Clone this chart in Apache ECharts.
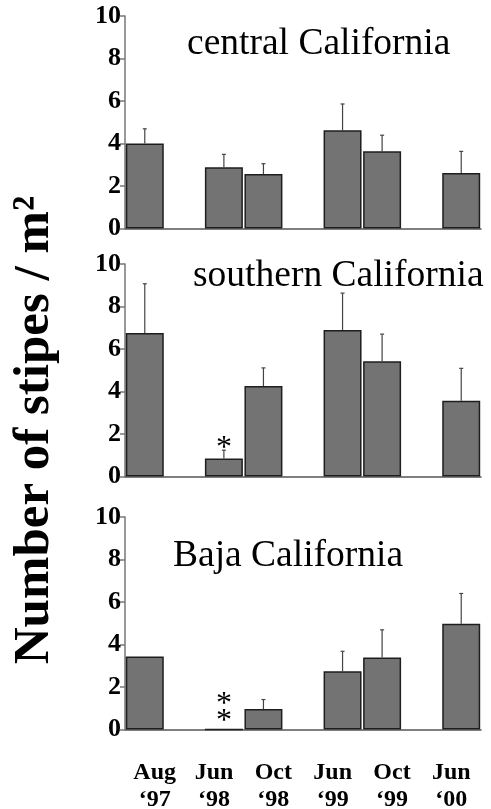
<!DOCTYPE html>
<html>
<head>
<meta charset="utf-8">
<script src="https://cdn.jsdelivr.net/npm/echarts@6/dist/echarts.min.js"></script>
<style>
html,body{margin:0;padding:0;background:#fff;}
#chart{width:491px;height:809px;}
</style>
</head>
<body>
<div id="chart"></div>
<script>
// ---- data ----
const categories = ["Aug ‘97", "Jun ‘98", "Oct ‘98", "Jun ‘99", "Oct ‘99", "Jun ‘00"];
const slotIndex = [0, 2, 3, 5, 6, 8];   // bars sit in 9 slots, with empty slots between seasons
const slotCount = 9;
const yTicks = [0, 2, 4, 6, 8, 10];
const panelTitles = ["central California", "southern California", "Baja California"];
const yAxisTitle = "Number of stipes / m²";

const centralMean  = [4.00, 2.88, 2.56, 4.62, 3.63, 2.61];
const centralUpper = [4.69, 3.49, 3.05, 5.86, 4.39, 3.63];
const centralNotes = ["", "", "", "", "", ""];

const southernMean  = [6.75, 0.85, 4.26, 6.89, 5.42, 3.57];
const southernUpper = [9.07, 1.24, 5.11, 8.63, 6.70, 5.09];
const southernNotes = ["", "*", "", "", "", ""];

const bajaMean  = [3.43, 0, 0.96, 2.74, 3.39, 4.98];
const bajaUpper = [null, null, 1.41, 3.68, 4.69, 6.40];
const bajaNotes = ["", "*\n*", "", "", "", ""];

// ---- layout / style ----
const panels = [
  {mean: centralMean, upper: centralUpper, notes: centralNotes},
  {mean: southernMean, upper: southernUpper, notes: southernNotes},
  {mean: bajaMean, upper: bajaUpper, notes: bajaNotes}
];
const gridTops = [16, 264, 517];
const gridH = 212.5;
const gridLeft = 125, gridW = 356;
const titlePos = [{left: 187, top: 25}, {left: 193, top: 257}, {left: 173, top: 537}];
const noteDistance = [5, 1, -1];
const serif = "'Liberation Serif', 'Times New Roman', serif";

const slotLabels = [];
for (let i = 0; i < slotCount; i++) {
  const k = slotIndex.indexOf(i);
  slotLabels.push(k >= 0 ? categories[k] : "");
}

const grids = [], xAxes = [], yAxes = [], series = [], titles = [];
panels.forEach((p, g) => {
  grids.push({left: gridLeft, top: gridTops[g], width: gridW, height: gridH,
              containLabel: false, outerBoundsMode: 'none'});
  titles.push({
    text: panelTitles[g], left: titlePos[g].left, top: titlePos[g].top, padding: 0,
    textStyle: {fontFamily: serif, fontSize: 37.5, fontWeight: 'normal', color: '#000'}
  });
  xAxes.push({
    type: 'category', gridIndex: g, data: slotLabels,
    axisLine: {show: true, lineStyle: {color: '#555', width: 1.5}},
    axisTick: {show: false}, axisLabel: {show: false}, splitLine: {show: false}
  });
  yAxes.push({
    type: 'value', gridIndex: g, min: yTicks[0], max: yTicks[yTicks.length - 1],
    interval: yTicks[1] - yTicks[0],
    axisLine: {show: true, lineStyle: {color: '#777', width: 1.5}},
    axisTick: {show: true, length: 5, lineStyle: {color: '#777', width: 1.5}},
    splitLine: {show: false},
    axisLabel: {
      color: '#000', fontFamily: serif, fontWeight: 'bold', fontSize: 26, margin: 4,
      padding: [12, 0, 0, 0]
    }
  });
  const barData = new Array(slotCount).fill(null);
  const errData = [];
  p.mean.forEach((v, i) => {
    barData[slotIndex[i]] = {value: v, note: p.notes[i]};
    if (p.upper[i] != null) errData.push([slotIndex[i], v, p.upper[i]]);
  });
  series.push({
    type: 'bar', xAxisIndex: g, yAxisIndex: g, data: barData,
    barCategoryGap: '4%',
    itemStyle: {color: '#737373', borderColor: '#1e1e1e', borderWidth: 1.5},
    label: {
      show: true, position: 'top', distance: noteDistance[g],
      fontFamily: serif, fontSize: 32, lineHeight: 17, color: '#000',
      formatter: (prm) => (prm.data && prm.data.note) ? prm.data.note : ''
    },
    emphasis: {disabled: true}, animation: false, silent: true
  });
  series.push({
    type: 'custom', xAxisIndex: g, yAxisIndex: g, data: errData,
    encode: {x: 0, y: [1, 2]},
    renderItem: (params, api) => {
      const x = api.value(0);
      const p0 = api.coord([x, api.value(1)]);
      const p1 = api.coord([x, api.value(2)]);
      const st = {stroke: '#444', lineWidth: 1.2};
      return {
        type: 'group', children: [
          {type: 'line', shape: {x1: p0[0], y1: p0[1], x2: p1[0], y2: p1[1]}, style: st},
          {type: 'line', shape: {x1: p1[0] - 2, y1: p1[1], x2: p1[0] + 2, y2: p1[1]}, style: st}
        ]
      };
    },
    z: 3, animation: false, silent: true
  });
});

// shared category labels under the bottom panel
xAxes.push({
  type: 'category', gridIndex: 2, position: 'bottom', data: categories,
  axisLine: {show: false}, axisTick: {show: false}, splitLine: {show: false},
  axisLabel: {
    show: true, interval: 0, margin: 30, color: '#000', fontFamily: serif,
    fontWeight: 'bold', fontSize: 24, lineHeight: 27,
    formatter: (v) => v.replace(' ', '\n')
  }
});

const chart = echarts.init(document.getElementById('chart'), null, {renderer: 'canvas'});
chart.setOption({
  backgroundColor: '#fff',
  animation: false,
  title: titles,
  grid: grids,
  xAxis: xAxes,
  yAxis: yAxes,
  series: series,
  graphic: [{
    type: 'text', x: 35, y: 430, rotation: Math.PI / 2,
    style: {
      text: yAxisTitle, font: "bold 51px " + serif, fill: '#000',
      textAlign: 'center', textVerticalAlign: 'middle'
    }
  }]
});
</script>
</body>
</html>
